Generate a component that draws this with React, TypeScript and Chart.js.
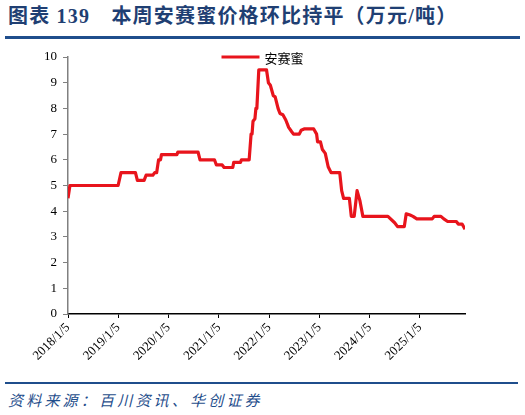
import React, { useEffect, useRef } from "react";
import { Chart, registerables } from "chart.js";
Chart.register(...registerables);

const TITLE = "图表 139　本周安赛蜜价格环比持平（万元/吨）";
const SOURCE = "资料来源：百川资讯、华创证券";
const SERIES_NAME = "安赛蜜";

const dates = [
  "2018-01-05", "2018-01-19", "2019-01-04", "2019-01-25", "2019-05-10", "2019-05-24",
  "2019-07-12", "2019-07-26", "2019-09-13", "2019-09-27", "2019-10-11", "2019-10-25",
  "2019-11-08", "2019-11-15", "2020-03-06", "2020-03-13", "2020-08-07", "2020-08-21",
  "2020-12-04", "2020-12-18", "2021-01-29", "2021-02-12", "2021-04-16", "2021-04-23",
  "2021-06-11", "2021-06-18", "2021-08-13", "2021-08-27", "2021-09-03", "2021-09-10",
  "2021-09-24", "2021-10-01", "2021-10-08", "2021-10-22", "2021-12-17", "2021-12-31",
  "2022-01-14", "2022-02-04", "2022-02-18", "2022-03-11", "2022-03-25", "2022-04-15",
  "2022-05-06", "2022-05-27", "2022-06-17", "2022-07-01", "2022-08-12", "2022-08-26",
  "2022-09-16", "2022-11-25", "2022-12-16", "2022-12-23", "2023-01-13", "2023-01-27",
  "2023-02-17", "2023-03-10", "2023-03-31", "2023-06-02", "2023-06-16", "2023-06-30",
  "2023-08-11", "2023-08-25", "2023-09-15", "2023-10-06", "2023-10-27", "2023-11-17",
  "2024-05-17", "2024-07-05", "2024-07-26", "2024-09-13", "2024-09-27", "2024-10-25",
  "2024-11-15", "2024-12-13", "2025-04-04", "2025-04-18", "2025-06-06", "2025-06-27",
  "2025-07-25", "2025-09-26", "2025-10-10", "2025-11-07", "2025-11-28",
];

const values = [
  4.5, 5.0, 5.0, 5.5, 5.5, 5.2,
  5.2, 5.4, 5.4, 5.5, 5.5, 6.0,
  6.0, 6.2, 6.2, 6.3, 6.3, 6.0,
  6.0, 5.8, 5.8, 5.7, 5.7, 5.9,
  5.9, 6.0, 6.0, 7.0, 7.0, 7.5,
  7.6, 8.0, 8.0, 9.5, 9.5, 9.0,
  8.9, 8.5, 8.45, 8.0, 7.8, 7.75,
  7.55, 7.26, 7.1, 7.0, 7.0, 7.15,
  7.2, 7.2, 7.0, 6.7, 6.7, 6.4,
  6.25, 5.73, 5.5, 5.5, 4.8, 4.5,
  4.5, 3.8, 3.8, 4.8, 4.4, 3.8,
  3.8, 3.55, 3.4, 3.4, 3.9, 3.85,
  3.8, 3.7, 3.7, 3.8, 3.8, 3.7,
  3.6, 3.6, 3.5, 3.5, 3.3,
];

const xTickDates = [
  "2018-01-05", "2019-01-05", "2020-01-05", "2021-01-05",
  "2022-01-05", "2023-01-05", "2024-01-05", "2025-01-05",
];
const xTickLabels = [
  "2018/1/5", "2019/1/5", "2020/1/5", "2021/1/5",
  "2022/1/5", "2023/1/5", "2024/1/5", "2025/1/5",
];
const yMin = 0;
const yMax = 10;
const yStep = 1;

const RED = "#E8141C";
const NAVY = "#1F3F73";
const BLUE = "#1F4E8C";

function toMs(s: string): number {
  const [y, m, d] = s.split("-").map(Number);
  return Date.UTC(y, m - 1, d);
}

const legendPlugin = {
  id: "customLegend",
  afterDraw(chart: any) {
    const { ctx, chartArea } = chart;
    const cx = (chartArea.left + chartArea.right) / 2;
    const y = chartArea.top;
    ctx.save();
    ctx.font = '13px "Noto Sans CJK SC"';
    const tw = ctx.measureText(SERIES_NAME).width;
    const lineW = 38;
    const gap = 5;
    const total = lineW + gap + tw;
    const x0 = cx - total / 2 - 4;
    ctx.strokeStyle = RED;
    ctx.lineWidth = 3;
    ctx.beginPath();
    ctx.moveTo(x0, y);
    ctx.lineTo(x0 + lineW, y);
    ctx.stroke();
    ctx.fillStyle = "#000";
    ctx.textBaseline = "middle";
    ctx.fillText(SERIES_NAME, x0 + lineW + gap, y + 1);
    ctx.restore();
  },
};

function ChartCanvas() {
  const ref = useRef<HTMLCanvasElement | null>(null);
  useEffect(() => {
    if (!ref.current) return;
    const data = dates.map((d, i) => ({ x: toMs(d), y: values[i] }));
    const tickVals = xTickDates.map(toMs);
    const chart = new Chart(ref.current, {
      type: "line",
      data: {
        datasets: [
          {
            label: SERIES_NAME,
            data,
            borderColor: RED,
            backgroundColor: RED,
            borderWidth: 3.2,
            pointRadius: 0,
            tension: 0,
            borderJoinStyle: "round",
          },
        ],
      },
      options: {
        responsive: false,
        animation: false,
        devicePixelRatio: 1,
        layout: { padding: { top: 17, right: 60, left: 0, bottom: 0 } },
        plugins: {
          legend: { display: false },
          tooltip: { enabled: false },
        },
        scales: {
          x: {
            type: "linear",
            min: toMs(dates[0]),
            max: toMs(dates[dates.length - 1]),
            afterBuildTicks: (scale: any) => {
              scale.ticks = tickVals.map((v) => ({ value: v }));
            },
            afterFit: (scale: any) => {
              scale.height = 66;
            },
            ticks: {
              autoSkip: false,
              minRotation: 45,
              maxRotation: 45,
              padding: 2,
              color: "#000",
              font: { family: '"Liberation Serif", "Times New Roman", serif', size: 13 },
              callback: (_v: any, i: number) => xTickLabels[i],
            },
            grid: {
              display: true,
              drawOnChartArea: false,
              drawTicks: true,
              tickLength: 4,
              color: "#000",
              tickColor: "#000",
            },
            border: { display: true, color: "#000", width: 1.5 },
          },
          y: {
            min: yMin,
            max: yMax,
            afterFit: (scale: any) => {
              scale.width = 68;
            },
            ticks: {
              stepSize: yStep,
              padding: 6,
              color: "#000",
              font: { family: '"Liberation Serif", "Times New Roman", serif', size: 13 },
            },
            grid: {
              display: true,
              drawOnChartArea: false,
              drawTicks: true,
              tickLength: 5,
              color: "#808080",
              tickColor: "#808080",
            },
            border: { display: true, color: "#808080", width: 1.5 },
          },
        },
      },
      plugins: [legendPlugin],
    });
    return () => chart.destroy();
  }, []);
  return (
    <canvas
      ref={ref}
      width={525}
      height={340}
      style={{ position: "absolute", left: 0, top: 40, width: 525, height: 340 }}
    />
  );
}

export default function App() {
  return (
    <div
      style={{
        position: "fixed",
        left: 0,
        top: 0,
        width: 525,
        height: 415,
        background: "#fff",
        overflow: "hidden",
      }}
    >
      <div
        style={{
          position: "absolute",
          left: 8,
          top: 2,
          fontFamily: '"Liberation Serif", "Noto Sans CJK SC", serif',
          fontWeight: "bold",
          fontSize: 20,
          letterSpacing: 1.2,
          color: NAVY,
          whiteSpace: "pre",
          lineHeight: "28px",
        }}
      >
        {TITLE}
      </div>
      <div
        style={{
          position: "absolute",
          left: 5,
          top: 36,
          width: 515,
          height: 3,
          background: BLUE,
        }}
      />
      <ChartCanvas />
      <div
        style={{
          position: "absolute",
          left: 5,
          top: 382,
          width: 513,
          height: 2,
          background: BLUE,
        }}
      />
      <div
        style={{
          position: "absolute",
          left: 8,
          top: 389,
          fontFamily: '"Noto Sans CJK SC", sans-serif',
          fontStyle: "italic",
          fontSize: 15,
          letterSpacing: 3.2,
          color: BLUE,
          whiteSpace: "pre",
          lineHeight: "22px",
        }}
      >
        {SOURCE}
      </div>
    </div>
  );
}
